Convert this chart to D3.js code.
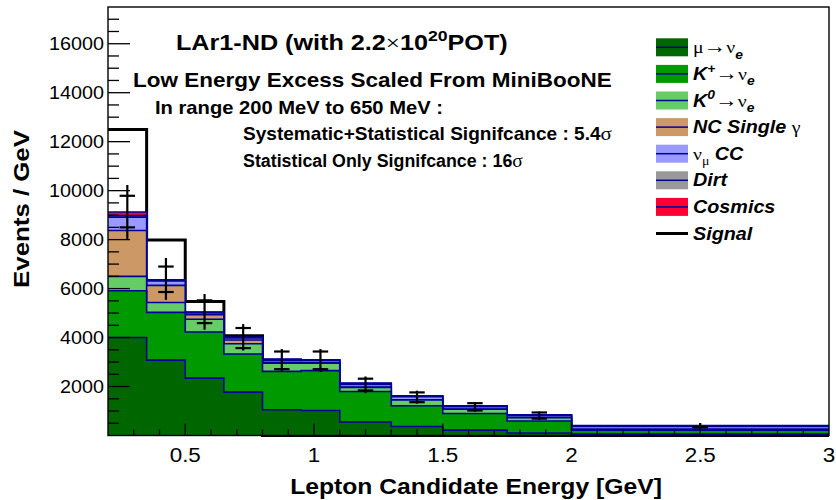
<!DOCTYPE html>
<html><head><meta charset="utf-8">
<script src="https://cdn.jsdelivr.net/npm/d3@7"></script>
<style>body{margin:0;background:#fff}svg{display:block}</style>
</head><body>
<svg id="c" width="836" height="500"></svg>
<script>
// ---------------- data ----------------
const binEdges = [0.2,0.35,0.5,0.65,0.8,0.95,1.1,1.3,1.5,1.75,2.0,3.0];
const muNue   = [4000,3080,2345,1773,1050,1020,550,370,220,100,55];
const kPlus   = [1910,1950,1885,1557,1570,1630,1250,845,680,490,165];
const kZero   = [590,400,520,420,330,300,160,235,170,140,30];
const ncGamma = [1870,700,180,150,40,30,20,10,10,5,3];
const numuCC  = [550,180,80,80,90,80,110,120,100,85,120];
const dirt    = [60,30,20,20,25,20,30,30,25,15,25];
const cosmics = [150,20,10,15,15,10,20,10,10,10,10];
const signal  = [3370,1620,430,60,0,0,0,0,0,0,0];
// points with error bars
const errHi = [10230,7250,5780,4550,3530,3530,2410,1830,1360,980,510];
const errLo = [7990,5540,4320,3470,2610,2590,1730,1300,970,640,300];
const markA = [9790,6900,5520,4390,3430,3430,2320,1760,1320,940,340];
const markB = [8500,5860,4590,3570,2710,2710,1840,1360,1020,690,340];
const xErr = 0.03;
// ticks
const xTickValues = [0.5,1,1.5,2,2.5,3];
const xTickLabels = ["0.5","1","1.5","2","2.5","3"];
const yTickValues = [2000,4000,6000,8000,10000,12000,14000,16000];
const yTickLabels = ["2000","4000","6000","8000","10000","12000","14000","16000"];

// ---------------- styles ----------------
const fills = ["#006600","#009900","#66cc66","#cc9966","#9999ff","#999999","#ff0033"];
const navy = "#000099";
const SANS = "'Liberation Sans', Arial, Helvetica, sans-serif";
const SERIF = "'Liberation Serif', 'Times New Roman', serif";

const svg = d3.select("#c");
const x = d3.scaleLinear().domain([0.2,3]).range([108,829]);
const y = d3.scaleLinear().domain([0,17500]).range([435.5,7]);

const layers = [muNue,kPlus,kZero,ncGamma,numuCC,dirt,cosmics];
const nb = binEdges.length-1;
const cum = [];
let run = new Array(nb).fill(0);
layers.forEach(l => { run = run.map((v,i)=>v+l[i]); cum.push(run.slice()); });
const total = cum[cum.length-1];
const sigLine = total.map((v,i)=> signal[i]>0 ? v+signal[i] : 0);

const pts = arr => binEdges.map((e,i)=>({x:e, v:arr[Math.min(i,nb-1)]}));
const area = d3.area().curve(d3.curveStepAfter).x(d=>x(d.x)).y0(y(0)).y1(d=>y(d.v));
const line = d3.line().curve(d3.curveStepAfter).x(d=>x(d.x)).y(d=>y(d.v));

// signal outline (drawn first, stack covers it)
svg.append("path").attr("d", line(pts(sigLine))).attr("fill","none")
  .attr("stroke","#000").attr("stroke-width",3);

// stack: draw from top cumulative to bottom
for (let k = cum.length-1; k>=0; k--) {
  svg.append("path").attr("d", area(pts(cum[k]))).attr("fill", fills[k]).attr("stroke","none");
  svg.append("path").attr("d", line(pts(cum[k]))).attr("fill","none")
     .attr("stroke", navy).attr("stroke-width",1.6);
}

// error bars
const centers = d3.range(nb).map(i => (binEdges[i]+binEdges[i+1])/2);
const eb = svg.append("g").attr("stroke","#000").attr("stroke-width",2.2);
centers.forEach((c,i)=>{
  eb.append("line").attr("x1",x(c)).attr("x2",x(c)).attr("y1",y(errHi[i])).attr("y2",y(errLo[i]));
  [markA[i], markB[i]].forEach(m=>{
    eb.append("line").attr("x1",x(c-xErr)).attr("x2",x(c+xErr)).attr("y1",y(m)).attr("y2",y(m));
  });
});

// ticks
const tk = svg.append("g").attr("stroke","#000").attr("stroke-width",1.3);
d3.range(500,17500,500).forEach(v=>{
  const major = v%2000===0;
  tk.append("line").attr("x1",108).attr("x2",108+(major?22:11)).attr("y1",y(v)).attr("y2",y(v));
});
d3.range(3,30).map(v=>v/10).forEach(v=>{
  const major = Math.abs(v*2-Math.round(v*2))<1e-6;
  tk.append("line").attr("x1",x(v)).attr("x2",x(v)).attr("y1",y(0)).attr("y2",y(0)-(major?12:6));
});
// frame
svg.append("rect").attr("x",108).attr("y",7).attr("width",829-108).attr("height",435.5-7)
  .attr("fill","none").attr("stroke","#000").attr("stroke-width",1.4);

// ---------------- text helper ----------------
function rich(px, py, parts, size, opts={}) {
  const g = svg.append("g");
  const t = g.append("text").attr("font-size",size).attr("font-family",SANS)
    .attr("text-anchor", opts.anchor||"start").attr("fill","#000");
  let off = 0;
  parts.forEach(p=>{
    const ts = t.append("tspan").text(p.t);
    if (p.serif) ts.attr("font-family",SERIF);
    if (p.b) ts.attr("font-weight","bold");
    if (p.i) ts.attr("font-style","italic");
    let target = 0;
    if (p.sup) { target = -0.42*size; ts.attr("font-size", size*0.7); }
    if (p.sub) { target = 0.3*size; ts.attr("font-size", size*0.7); }
    if (p.scale) ts.attr("font-size", size*p.scale);
    ts.attr("dy", target-off); off = target;
  });
  let sx = opts.sx || 1.12;
  if (opts.width) sx = opts.width / t.node().getComputedTextLength();
  const rot = opts.rot ? ` rotate(${opts.rot})` : "";
  g.attr("transform", `translate(${px},${py})${rot} scale(${sx},1)`);
  return g;
}

// tick labels
yTickValues.forEach((v,i)=> rich(104, y(v)+6.3, [{t:yTickLabels[i]}], 17.5, {anchor:"end", sx:1.13}));
xTickValues.forEach((v,i)=> rich(x(v), 462, [{t:xTickLabels[i]}], 19.5, {anchor:"middle", sx:1.15}));

// axis titles
rich(476, 494, [{t:"Lepton Candidate Energy [GeV]", b:true}], 22, {anchor:"middle", width:372});
rich(28.5, 209, [{t:"Events / GeV", b:true}], 22, {anchor:"middle", width:158, rot:-90});

// annotation texts
rich(176, 50, [{t:"LAr1-ND (with 2.2", b:true},{t:"×", serif:true},{t:"10", b:true},{t:"20", b:true, sup:true},{t:"POT)", b:true}], 22, {width:332});
rich(133, 87, [{t:"Low Energy Excess Scaled From MiniBooNE", b:true}], 19.5, {width:479});
rich(155, 113.5, [{t:"In range 200 MeV to 650 MeV :", b:true}], 18, {width:288});
rich(243, 140, [{t:"Systematic+Statistical Signifcance : 5.4", b:true},{t:"σ", serif:true, scale:1.1}], 17.5, {width:369});
rich(243, 167, [{t:"Statistical Only Signifcance : 16", b:true},{t:"σ", serif:true, scale:1.1}], 17.5, {width:280});

// legend
const legendParts = [
  [{t:"μ", serif:true},{t:"→", scale:1.15},{t:"ν", serif:true},{t:"e", b:true, i:true, sub:true}],
  [{t:"K", b:true, i:true},{t:"+", b:true, i:true, sup:true},{t:"→", scale:1.15},{t:"ν", serif:true},{t:"e", b:true, i:true, sub:true}],
  [{t:"K", b:true, i:true},{t:"0", b:true, i:true, sup:true},{t:"→", scale:1.15},{t:"ν", serif:true},{t:"e", b:true, i:true, sub:true}],
  [{t:"NC Single ", b:true, i:true},{t:"γ", serif:true}],
  [{t:"ν", serif:true},{t:"μ", serif:true, sub:true},{t:" CC", b:true, i:true}],
  [{t:"Dirt", b:true, i:true}],
  [{t:"Cosmics", b:true, i:true}],
  [{t:"Signal", b:true, i:true}]
];
legendParts.forEach((parts,i)=>{
  const cy = 47.3 + i*26.6;
  if (i < 7) {
    svg.append("rect").attr("x",656).attr("y",cy-9).attr("width",32).attr("height",18).attr("fill",fills[i]);
    svg.append("line").attr("x1",656).attr("x2",688).attr("y1",cy).attr("y2",cy).attr("stroke",navy).attr("stroke-width",1.5);
  } else {
    svg.append("line").attr("x1",656).attr("x2",688).attr("y1",cy).attr("y2",cy).attr("stroke","#000").attr("stroke-width",3);
  }
  rich(693, cy+6, parts, 17.5, {sx:1.13});
});
</script>
</body></html>
